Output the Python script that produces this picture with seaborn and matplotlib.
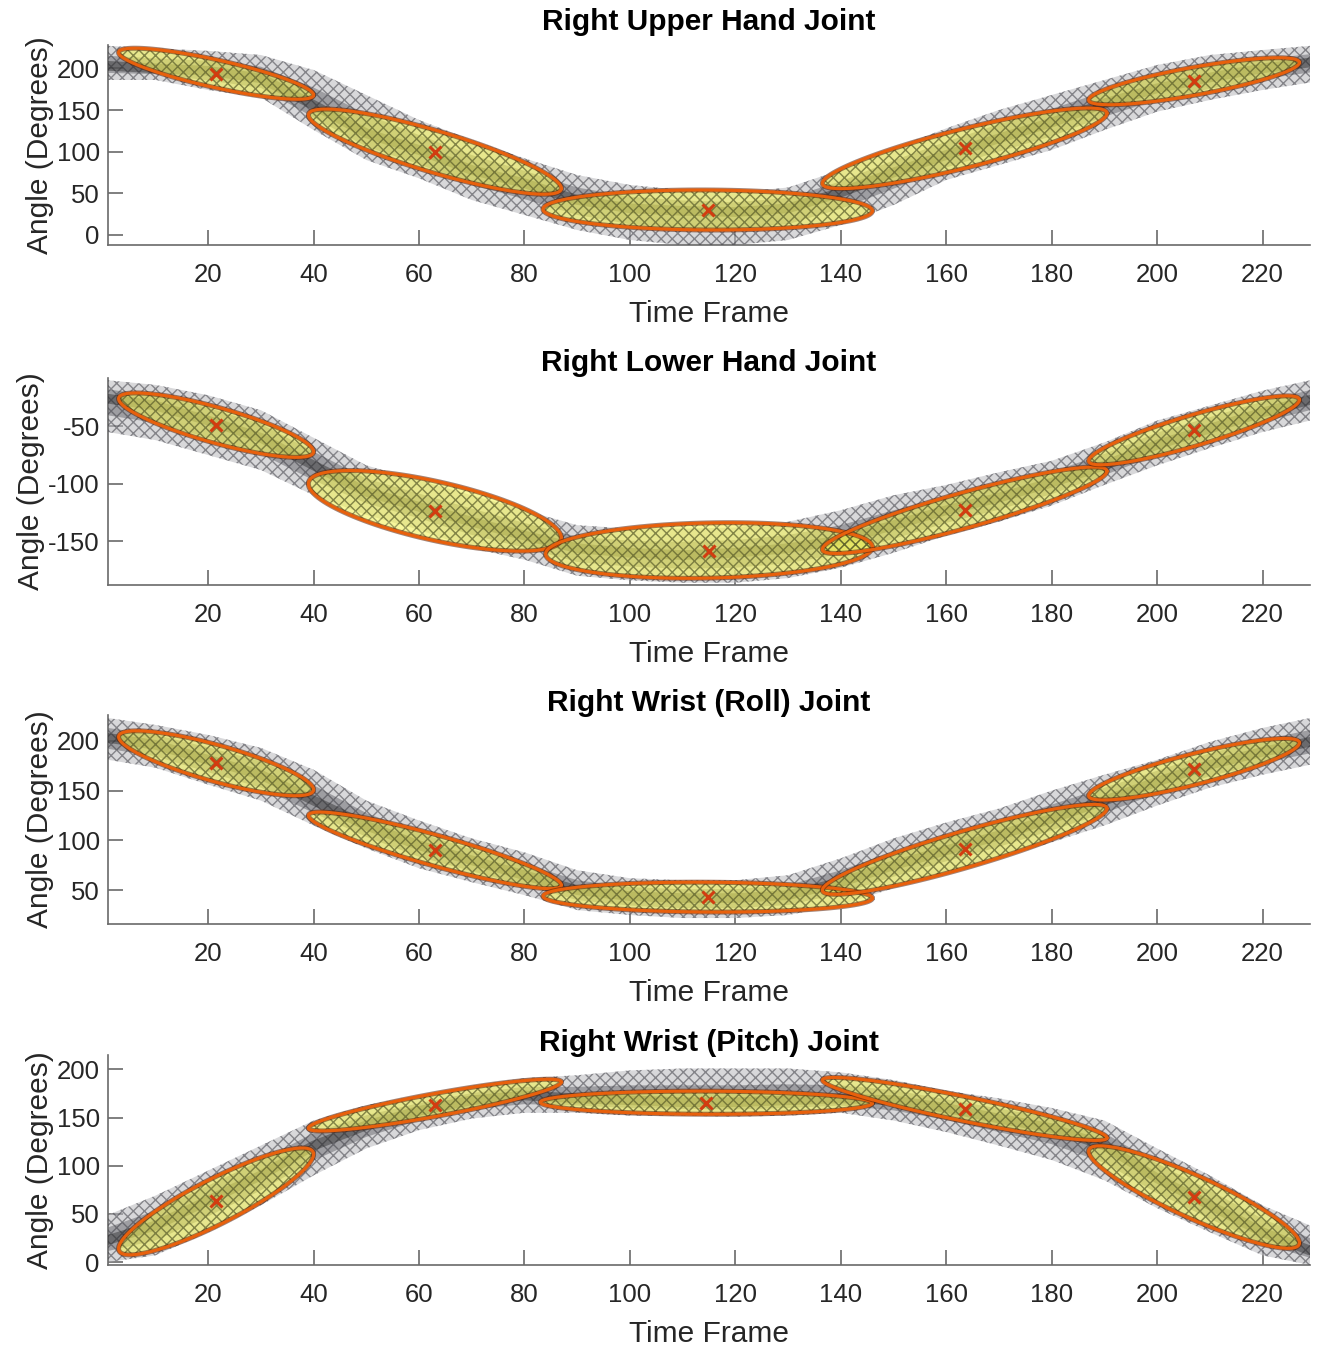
import numpy as np
import matplotlib
matplotlib.use("Agg")
import matplotlib.pyplot as plt
import seaborn as sns

# ---------------- data ----------------
titles = ["Right Upper Hand Joint", "Right Lower Hand Joint",
          "Right Wrist (Roll) Joint", "Right Wrist (Pitch) Joint"]
xlabel = "Time Frame"
ylabel = "Angle (Degrees)"
xticks = [20, 40, 60, 80, 100, 120, 140, 160, 180, 200, 220]
yticks = [[0, 50, 100, 150, 200], [-150, -100, -50],
          [50, 100, 150, 200], [0, 50, 100, 150, 200]]
ylims = [(-12, 228), (-188, -8), (16, 226), (-3, 215)]
xlim = (1, 229)

frames = [1, 10, 20, 30, 40, 50, 60, 70, 80, 90, 100, 110, 120, 130,
          140, 150, 160, 170, 180, 190, 200, 210, 220, 229]

j1_mean = [203, 200, 197, 188, 156, 122, 102, 78, 62, 42, 32, 29, 27.5, 32,
           51, 75, 96, 116, 135, 158, 176, 189, 200, 207]
j1_upper = [227, 224, 221, 216, 198, 168, 138, 114, 92, 72, 60, 54, 51, 57,
            78, 104, 128, 150, 168, 186, 204, 216, 222, 227]
j1_lower = [186, 186, 174, 165, 126, 90, 68, 42, 24, 6, -6, -12, -12, -6,
            12, 36, 66, 84, 102, 126, 148, 162, 174, 183]

j2_mean = [-26, -32, -45, -60, -84, -107, -120, -133, -145, -156, -160, -162,
           -160, -156, -149, -136, -123, -112, -99, -84, -66, -52, -38, -27]
j2_upper = [-10, -14, -23, -36, -60, -84, -97, -110, -123, -136, -139, -139,
            -138, -133, -123, -110, -101, -90, -80, -64, -45, -32, -19, -10]
j2_lower = [-55, -62, -75, -88, -110, -127, -140, -156, -166, -180, -184, -186,
            -186, -182, -173, -160, -145, -133, -119, -101, -84, -69, -55, -45]

j3_mean = [203, 196, 181, 166, 140, 115, 95, 80, 65, 50, 44, 42, 42, 45,
           58, 75, 90, 105, 122, 140, 159, 176, 189, 199]
j3_upper = [223, 216, 206, 193, 171, 140, 120, 102, 88, 70, 62, 60, 60, 65,
            82, 102, 118, 132, 150, 166, 181, 199, 213, 223]
j3_lower = [181, 173, 156, 140, 115, 92, 72, 58, 45, 30, 25, 22, 22, 25,
            35, 52, 68, 82, 98, 115, 135, 153, 166, 176]

j4_mean = [23, 38, 64, 90, 121, 142, 157, 168, 173, 170, 168, 166, 166, 168,
           170, 168, 160, 149, 139, 121, 87, 59, 31, 12]
j4_upper = [49, 69, 95, 121, 147, 163, 173, 183, 191, 194, 199, 201, 201, 201,
            197, 189, 178, 170, 160, 147, 118, 90, 59, 38]
j4_lower = [0, 7, 31, 59, 90, 118, 137, 149, 155, 155, 152, 152, 151, 152,
            155, 147, 135, 121, 106, 85, 56, 31, 7, -3]

# Gaussian ellipses: (x_left, y_left, x_right, y_right, vertical half-thickness)
j1_gauss = [(3, 219, 40, 168, 17), (39, 144, 87, 56, 26), (83.5, 31, 146, 29, 24),
            (136.5, 62, 190.5, 146, 24), (187, 162, 227, 207, 17)]
j2_gauss = [(3, -26, 40, -72, 16), (39, -100, 87, -147, 26), (84, -161, 146, -155, 24),
            (136.5, -157, 190.5, -89, 16), (187, -80, 227, -27, 14)]
j3_gauss = [(3, 204, 40, 151, 19), (39, 125, 87, 55, 16), (83.5, 44, 146, 42, 15),
            (136.5, 50, 190.5, 132, 19), (187, 145, 227, 198, 16)]
j4_gauss = [(3, 14, 40, 112, 26), (39, 139, 87, 187, 12), (83, 166, 146, 165, 12),
            (136.5, 189, 190.5, 129, 13), (187, 115, 227, 20, 24)]

means = [j1_mean, j2_mean, j3_mean, j4_mean]
uppers = [j1_upper, j2_upper, j3_upper, j4_upper]
lowers = [j1_lower, j2_lower, j3_lower, j4_lower]
gausses = [j1_gauss, j2_gauss, j3_gauss, j4_gauss]

# ---------------- style ----------------
sns.set_theme(style="ticks")
plt.rcParams["font.family"] = ["Liberation Sans", "DejaVu Sans"]
plt.rcParams["hatch.linewidth"] = 1.0
plt.rcParams["axes.unicode_minus"] = False

W, H = 1322, 1351
fig = plt.figure(figsize=(W / 100, H / 100), dpi=100)

# axes placement in pixels: (left, top, right, bottom), title centre y
boxes = [(108, 45, 1310, 245, 22), (108, 378, 1310, 585, 363),
         (108, 715, 1310, 924, 703), (108, 1055, 1310, 1265, 1043)]

spine_col = "#6a6a6a"
text_col = "#262626"
t = np.linspace(0, 2 * np.pi, 120)

for i in range(4):
    l, tp, r, b, ty = boxes[i]
    ax = fig.add_axes([l / W, 1 - b / H, (r - l) / W, (b - tp) / H])
    fr = np.array(frames, dtype=float)
    up = np.array(uppers[i], dtype=float)
    lo = np.array(lowers[i], dtype=float)
    mu = np.array(means[i], dtype=float)
    in_up = (up + mu) / 2
    in_lo = (lo + mu) / 2

    # demonstration band: light outer part, darker core, cross texture
    ax.fill_between(fr, lo, up, facecolor=(0.72, 0.72, 0.74, 0.55),
                    edgecolor="none", linewidth=0, zorder=1)
    ax.fill_between(fr, in_lo, in_up, facecolor=(0.35, 0.35, 0.37, 0.45),
                    edgecolor="none", linewidth=0, zorder=2)
    ax.fill_between(fr, lo, up, facecolor="none",
                    edgecolor=(0.25, 0.25, 0.28, 0.55), hatch="xxx",
                    linewidth=0, zorder=3)
    sns.lineplot(x=fr, y=mu, ax=ax, color="#1e1e1e", alpha=0.4,
                 linewidth=7, zorder=3)

    # Gaussian ellipses
    for (x1, y1, x2, y2, hh) in gausses[i]:
        cx, cy = (x1 + x2) / 2, (y1 + y2) / 2
        ax_x, ax_y = (x2 - x1) / 2, (y2 - y1) / 2
        ex = cx + ax_x * np.cos(t)
        ey = cy + ax_y * np.cos(t) + hh * np.sin(t)
        ax.fill(ex, ey, facecolor="#f2f25a", alpha=0.6, edgecolor="none", zorder=4)
        ax.fill(ex, ey, facecolor="none", edgecolor=(0.2, 0.22, 0.1, 0.45),
                hatch="xxx", linewidth=0, zorder=5)
        ax.plot(ex, ey, color="#5a1e05", linewidth=3.6, alpha=0.55, zorder=6)
        ax.plot(ex, ey, color="#e8600c", linewidth=2.2, zorder=6)
        ax.plot([cx], [cy], marker="x", color="#d23c10", markersize=8,
                markeredgewidth=2.2, zorder=7)

    ax.set_xlim(*xlim)
    ax.set_ylim(*ylims[i])
    ax.set_xticks(xticks)
    ax.set_yticks(yticks[i])
    ax.tick_params(direction="in", length=11, width=1.2, colors=spine_col,
                   labelcolor=text_col, labelsize=18.5)
    ax.tick_params(axis="x", pad=13)
    ax.tick_params(axis="y", pad=6)
    for s in ["top", "right"]:
        ax.spines[s].set_visible(False)
    for s in ["left", "bottom"]:
        ax.spines[s].set_color(spine_col)
        ax.spines[s].set_linewidth(1.2)
    ax.set_xlabel(xlabel, fontsize=21.5, color=text_col, labelpad=9)
    ax.set_ylabel(ylabel, fontsize=21.5, color=text_col, labelpad=2)
    ty_ax = 1 + (tp - ty) / (b - tp)
    ax.text(0.5, ty_ax, titles[i], transform=ax.transAxes, ha="center",
            va="center", fontsize=21.5, fontweight="bold", color="black")
    ax.set_facecolor("white")

fig.savefig("out.png", dpi=100, facecolor="white")
